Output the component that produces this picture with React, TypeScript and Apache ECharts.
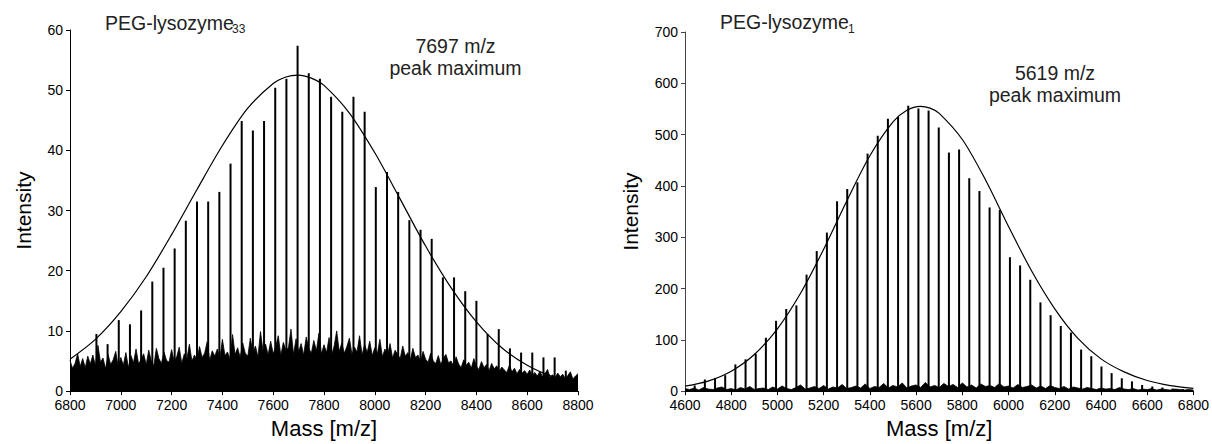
import React, { useEffect, useRef } from "react";
import * as echarts from "echarts";

const FONT = "'Liberation Sans', Arial, Helvetica, sans-serif";

// ---- Left panel: PEG-lysozyme33 ----
const LEFT_PEAK_MASS = [6904, 6948, 6992, 7036, 7080, 7124, 7168, 7212, 7256, 7300, 7344, 7388, 7432, 7476, 7520, 7564, 7608, 7652, 7696, 7740, 7784, 7828, 7872, 7916, 7960, 8004, 8048, 8092, 8136, 8180, 8224, 8268, 8312, 8356, 8400, 8444, 8488, 8532, 8576, 8620, 8664, 8708, 8752];
const LEFT_PEAK_INT = [9.5, 7.8, 11.8, 11.1, 13.4, 18.2, 20.5, 23.7, 28.3, 31.5, 31.5, 33.1, 37.8, 44.9, 43.3, 44.9, 50.4, 51.9, 57.4, 52.8, 51.9, 48.9, 46.4, 48.9, 46.4, 33.9, 36.4, 33.1, 28.4, 26.8, 25.3, 18.9, 18.9, 16.6, 15.0, 9.5, 10.3, 7.1, 6.4, 6.4, 5.6, 5.6, 3.4];

const LEFT_ENV_MASS = [6800, 6900, 7000, 7100, 7200, 7300, 7400, 7500, 7600, 7650, 7697, 7750, 7800, 7900, 8000, 8100, 8200, 8300, 8400, 8500, 8600, 8700, 8800];
const LEFT_ENV_INT = [5.3, 8.6, 13.2, 19.0, 26.0, 33.5, 40.8, 47.0, 51.1, 52.2, 52.5, 52.0, 50.8, 46.2, 39.6, 31.9, 24.1, 17.2, 11.5, 7.2, 4.3, 2.4, 1.2];

// noise band, sampled every 10 m/z from 6800 to 8800
const LEFT_NOISE_START = 6800;
const LEFT_NOISE_STEP = 10;
const LEFT_NOISE = [
  5.1, 3.8, 4.6, 6.2, 4.1, 5.4, 3.9, 5.8, 4.5, 6.0,
  4.2, 7.6, 4.8, 5.5, 3.7, 6.1, 4.4, 5.2, 6.6, 4.0,
  5.6, 4.3, 6.4, 3.9, 5.9, 4.7, 7.0, 4.5, 5.3, 6.2,
  4.4, 6.8, 5.0, 4.2, 7.1, 5.4, 4.6, 6.5, 5.1, 4.8,
  6.9, 4.9, 5.7, 7.3, 4.6, 6.2, 5.3, 7.8, 5.0, 6.0,
  5.2, 7.4, 5.6, 6.3, 8.2, 5.1, 6.7, 5.8, 7.0, 5.4,
  8.6, 5.9, 6.5, 5.3, 9.4, 6.1, 7.2, 5.6, 8.0, 6.3,
  5.8, 8.8, 6.4, 7.5, 5.7, 9.9, 6.6, 7.8, 6.0, 8.3,
  6.2, 7.4, 9.2, 5.9, 8.1, 6.8, 7.2, 10.3, 6.1, 8.7,
  6.5, 7.9, 6.0, 9.0, 7.1, 6.3, 8.4, 6.7, 9.6, 6.2,
  7.7, 6.4, 8.9, 6.0, 7.5, 10.0, 6.6, 8.0, 6.3, 7.4,
  8.8, 6.1, 7.3, 6.5, 9.2, 6.0, 7.8, 6.4, 8.3, 5.9,
  7.2, 6.2, 8.6, 5.7, 7.0, 6.0, 7.9, 5.5, 6.8, 6.1,
  5.4, 7.5, 5.8, 6.4, 5.2, 7.1, 5.6, 6.0, 4.9, 6.6,
  5.3, 4.8, 6.3, 5.0, 4.6, 5.9, 4.4, 5.5, 6.1, 4.7,
  5.0, 4.2, 5.7, 4.5, 3.9, 5.2, 4.3, 4.8, 3.8, 5.4,
  4.1, 3.6, 4.9, 3.9, 4.4, 3.4, 4.6, 3.7, 4.2, 3.3,
  4.0, 3.5, 3.1, 4.3, 3.2, 3.8, 2.9, 3.6, 3.0, 3.4,
  2.8, 3.5, 2.6, 3.1, 2.5, 3.3, 2.4, 2.9, 3.6, 2.3,
  2.7, 2.2, 3.0, 2.4, 2.8, 2.1, 2.6, 3.2, 2.0, 2.5,
  2.9,
];

// ---- Right panel: PEG-lysozyme1 ----
const RIGHT_PEAK_MASS = [4642, 4686, 4730, 4774, 4818, 4862, 4906, 4950, 4994, 5038, 5082, 5126, 5170, 5214, 5258, 5302, 5346, 5390, 5434, 5478, 5522, 5566, 5610, 5654, 5698, 5742, 5786, 5830, 5874, 5918, 5962, 6006, 6050, 6094, 6138, 6182, 6226, 6270, 6314, 6358, 6402, 6446, 6490, 6534, 6578, 6622, 6666, 6710, 6754];
const RIGHT_PEAK_INT = [11, 22.6, 25.7, 31, 52, 62, 73, 104, 137, 160, 167, 227, 273, 309, 370, 394, 407, 463, 498, 531, 535, 556, 551, 547, 514, 465, 471, 415, 390, 358, 353, 261, 245, 217, 173, 148, 127, 114, 81, 68, 48, 35, 25, 19, 12, 9, 7, 5, 4];

const RIGHT_ENV_MASS = [4600, 4700, 4800, 4900, 5000, 5100, 5200, 5300, 5400, 5500, 5560, 5619, 5660, 5700, 5800, 5900, 6000, 6100, 6200, 6300, 6400, 6500, 6600, 6700, 6800];
const RIGHT_ENV_INT = [9.7, 19.5, 38.8, 71.4, 121.4, 190.6, 276.6, 370.7, 458.8, 524.7, 547.4, 555, 551.5, 541.4, 490.5, 412, 320.9, 234.1, 160.4, 102.8, 62.8, 37.5, 20.6, 10.7, 5.3];

const RIGHT_NOISE_START = 4600;
const RIGHT_NOISE_STEP = 20;
const RIGHT_NOISE = [
  5, 3, 6, 2, 7, 4, 3, 6, 8, 3,
  5, 2, 7, 4, 9, 3, 5, 6, 3, 8,
  4, 10, 5, 3, 7, 12, 4, 6, 9, 5,
  11, 4, 8, 6, 13, 5, 7, 10, 6, 14,
  5, 9, 7, 15, 6, 11, 8, 16, 6, 10,
  12, 7, 17, 8, 11, 7, 15, 9, 13, 7,
  16, 8, 12, 6, 14, 9, 11, 7, 15, 8,
  10, 6, 13, 7, 9, 12, 6, 10, 5, 11,
  7, 5, 9, 4, 8, 6, 4, 7, 5, 3,
  6, 4, 5, 3, 7, 4, 3, 5, 2, 4,
  3, 5, 2, 4, 3, 2, 4, 3, 2, 3,
  2,
];

const pairs = (xs: number[], ys: number[]) => xs.map((x, i) => [x, ys[i]]);
const noisePairs = (start: number, step: number, vals: number[]) =>
  vals.map((v, i) => [start + i * step, v]);

const peakRender = (params: any, api: any) => {
  const m = api.value(0);
  const h = api.value(1);
  const p0 = api.coord([m, 0]);
  const p1 = api.coord([m, h]);
  return {
    type: "line",
    shape: { x1: p0[0], y1: p0[1], x2: p1[0], y2: p1[1] },
    style: { stroke: "#000", lineWidth: 2 },
  };
};

const axisCommon = (color: string) => ({
  axisLine: { show: true, onZero: false, lineStyle: { color, width: 1 } },
  axisTick: { show: true, inside: false, length: 4, lineStyle: { color } },
  splitLine: { show: false },
});

const plain = (v: number) => String(v);

const xAxisBase = (gridIndex: number, min: number, max: number) => ({
  gridIndex,
  type: "value",
  min,
  max,
  interval: 200,
  ...axisCommon("#000"),
  axisLabel: { color: "#000", fontSize: 14, lineHeight: 14, fontFamily: FONT, margin: 7, formatter: plain },
  name: "Mass [m/z]",
  nameLocation: "middle",
  nameGap: 22,
  nameTextStyle: { color: "#000", fontSize: 22, fontFamily: FONT },
});

const yAxisBase = (gridIndex: number, max: number, interval: number, gap: number, color: string) => ({
  gridIndex,
  type: "value",
  min: 0,
  max,
  interval,
  ...axisCommon(color),
  axisLabel: { color: "#000", fontSize: 14, lineHeight: 14, fontFamily: FONT, margin: 7, formatter: plain },
  name: "Intensity",
  nameLocation: "middle",
  nameGap: gap,
  nameTextStyle: { color: "#000", fontSize: 21, fontFamily: FONT },
});

const txt = (text: string, x: number, y: number, size: number, align: string) => ({
  type: "text",
  x,
  y,
  style: {
    text,
    fill: "#222",
    font: `${size}px ${FONT}`,
    align,
    verticalAlign: "middle",
  },
});

export default function App() {
  const ref = useRef<HTMLDivElement>(null);

  useEffect(() => {
    document.body.style.margin = "0";
    if (!ref.current) return;
    const chart = echarts.init(ref.current, undefined, { renderer: "svg" });
    chart.setOption({
      animation: false,
      backgroundColor: "#fff",
      textStyle: { fontFamily: FONT },
      grid: [
        { left: 70, right: 634, top: 30, bottom: 48 },
        { left: 685, right: 18, top: 32, bottom: 49 },
      ],
      xAxis: [xAxisBase(0, 6800, 8800), xAxisBase(1, 4600, 6800)],
      yAxis: [yAxisBase(0, 60, 10, 36, "#000"), yAxisBase(1, 700, 100, 44, "#444")],
      series: [
        {
          type: "line",
          xAxisIndex: 0,
          yAxisIndex: 0,
          data: noisePairs(LEFT_NOISE_START, LEFT_NOISE_STEP, LEFT_NOISE),
          symbol: "none",
          lineStyle: { color: "#000", width: 0.8 },
          areaStyle: { color: "#000", opacity: 1 },
          z: 1,
        },
        {
          type: "custom",
          xAxisIndex: 0,
          yAxisIndex: 0,
          renderItem: peakRender,
          encode: { x: 0, y: 1 },
          data: pairs(LEFT_PEAK_MASS, LEFT_PEAK_INT),
          z: 2,
        },
        {
          type: "line",
          xAxisIndex: 0,
          yAxisIndex: 0,
          data: pairs(LEFT_ENV_MASS, LEFT_ENV_INT),
          smooth: 0.3,
          symbol: "none",
          lineStyle: { color: "#000", width: 1.2 },
          z: 3,
        },
        {
          type: "line",
          xAxisIndex: 1,
          yAxisIndex: 1,
          data: noisePairs(RIGHT_NOISE_START, RIGHT_NOISE_STEP, RIGHT_NOISE),
          symbol: "none",
          lineStyle: { color: "#000", width: 0.8 },
          areaStyle: { color: "#000", opacity: 1 },
          z: 1,
        },
        {
          type: "custom",
          xAxisIndex: 1,
          yAxisIndex: 1,
          renderItem: peakRender,
          encode: { x: 0, y: 1 },
          data: pairs(RIGHT_PEAK_MASS, RIGHT_PEAK_INT),
          z: 2,
        },
        {
          type: "line",
          xAxisIndex: 1,
          yAxisIndex: 1,
          data: pairs(RIGHT_ENV_MASS, RIGHT_ENV_INT),
          smooth: 0.3,
          symbol: "none",
          lineStyle: { color: "#000", width: 1.2 },
          z: 3,
        },
      ],
      graphic: [
        txt("PEG-lysozyme", 105, 22.5, 19.5, "left"),
        txt("33", 232, 29, 12, "left"),
        txt("7697 m/z", 455.5, 45.5, 19.5, "center"),
        txt("peak maximum", 455.5, 68.3, 19.5, "center"),
        txt("PEG-lysozyme", 720, 22, 19.5, "left"),
        txt("1", 848, 28.5, 12, "left"),
        txt("5619 m/z", 1055, 73.3, 19.5, "center"),
        txt("peak maximum", 1055, 94.7, 19.5, "center"),
      ],
    });
    return () => chart.dispose();
  }, []);

  return <div ref={ref} style={{ width: 1212, height: 444 }} />;
}
